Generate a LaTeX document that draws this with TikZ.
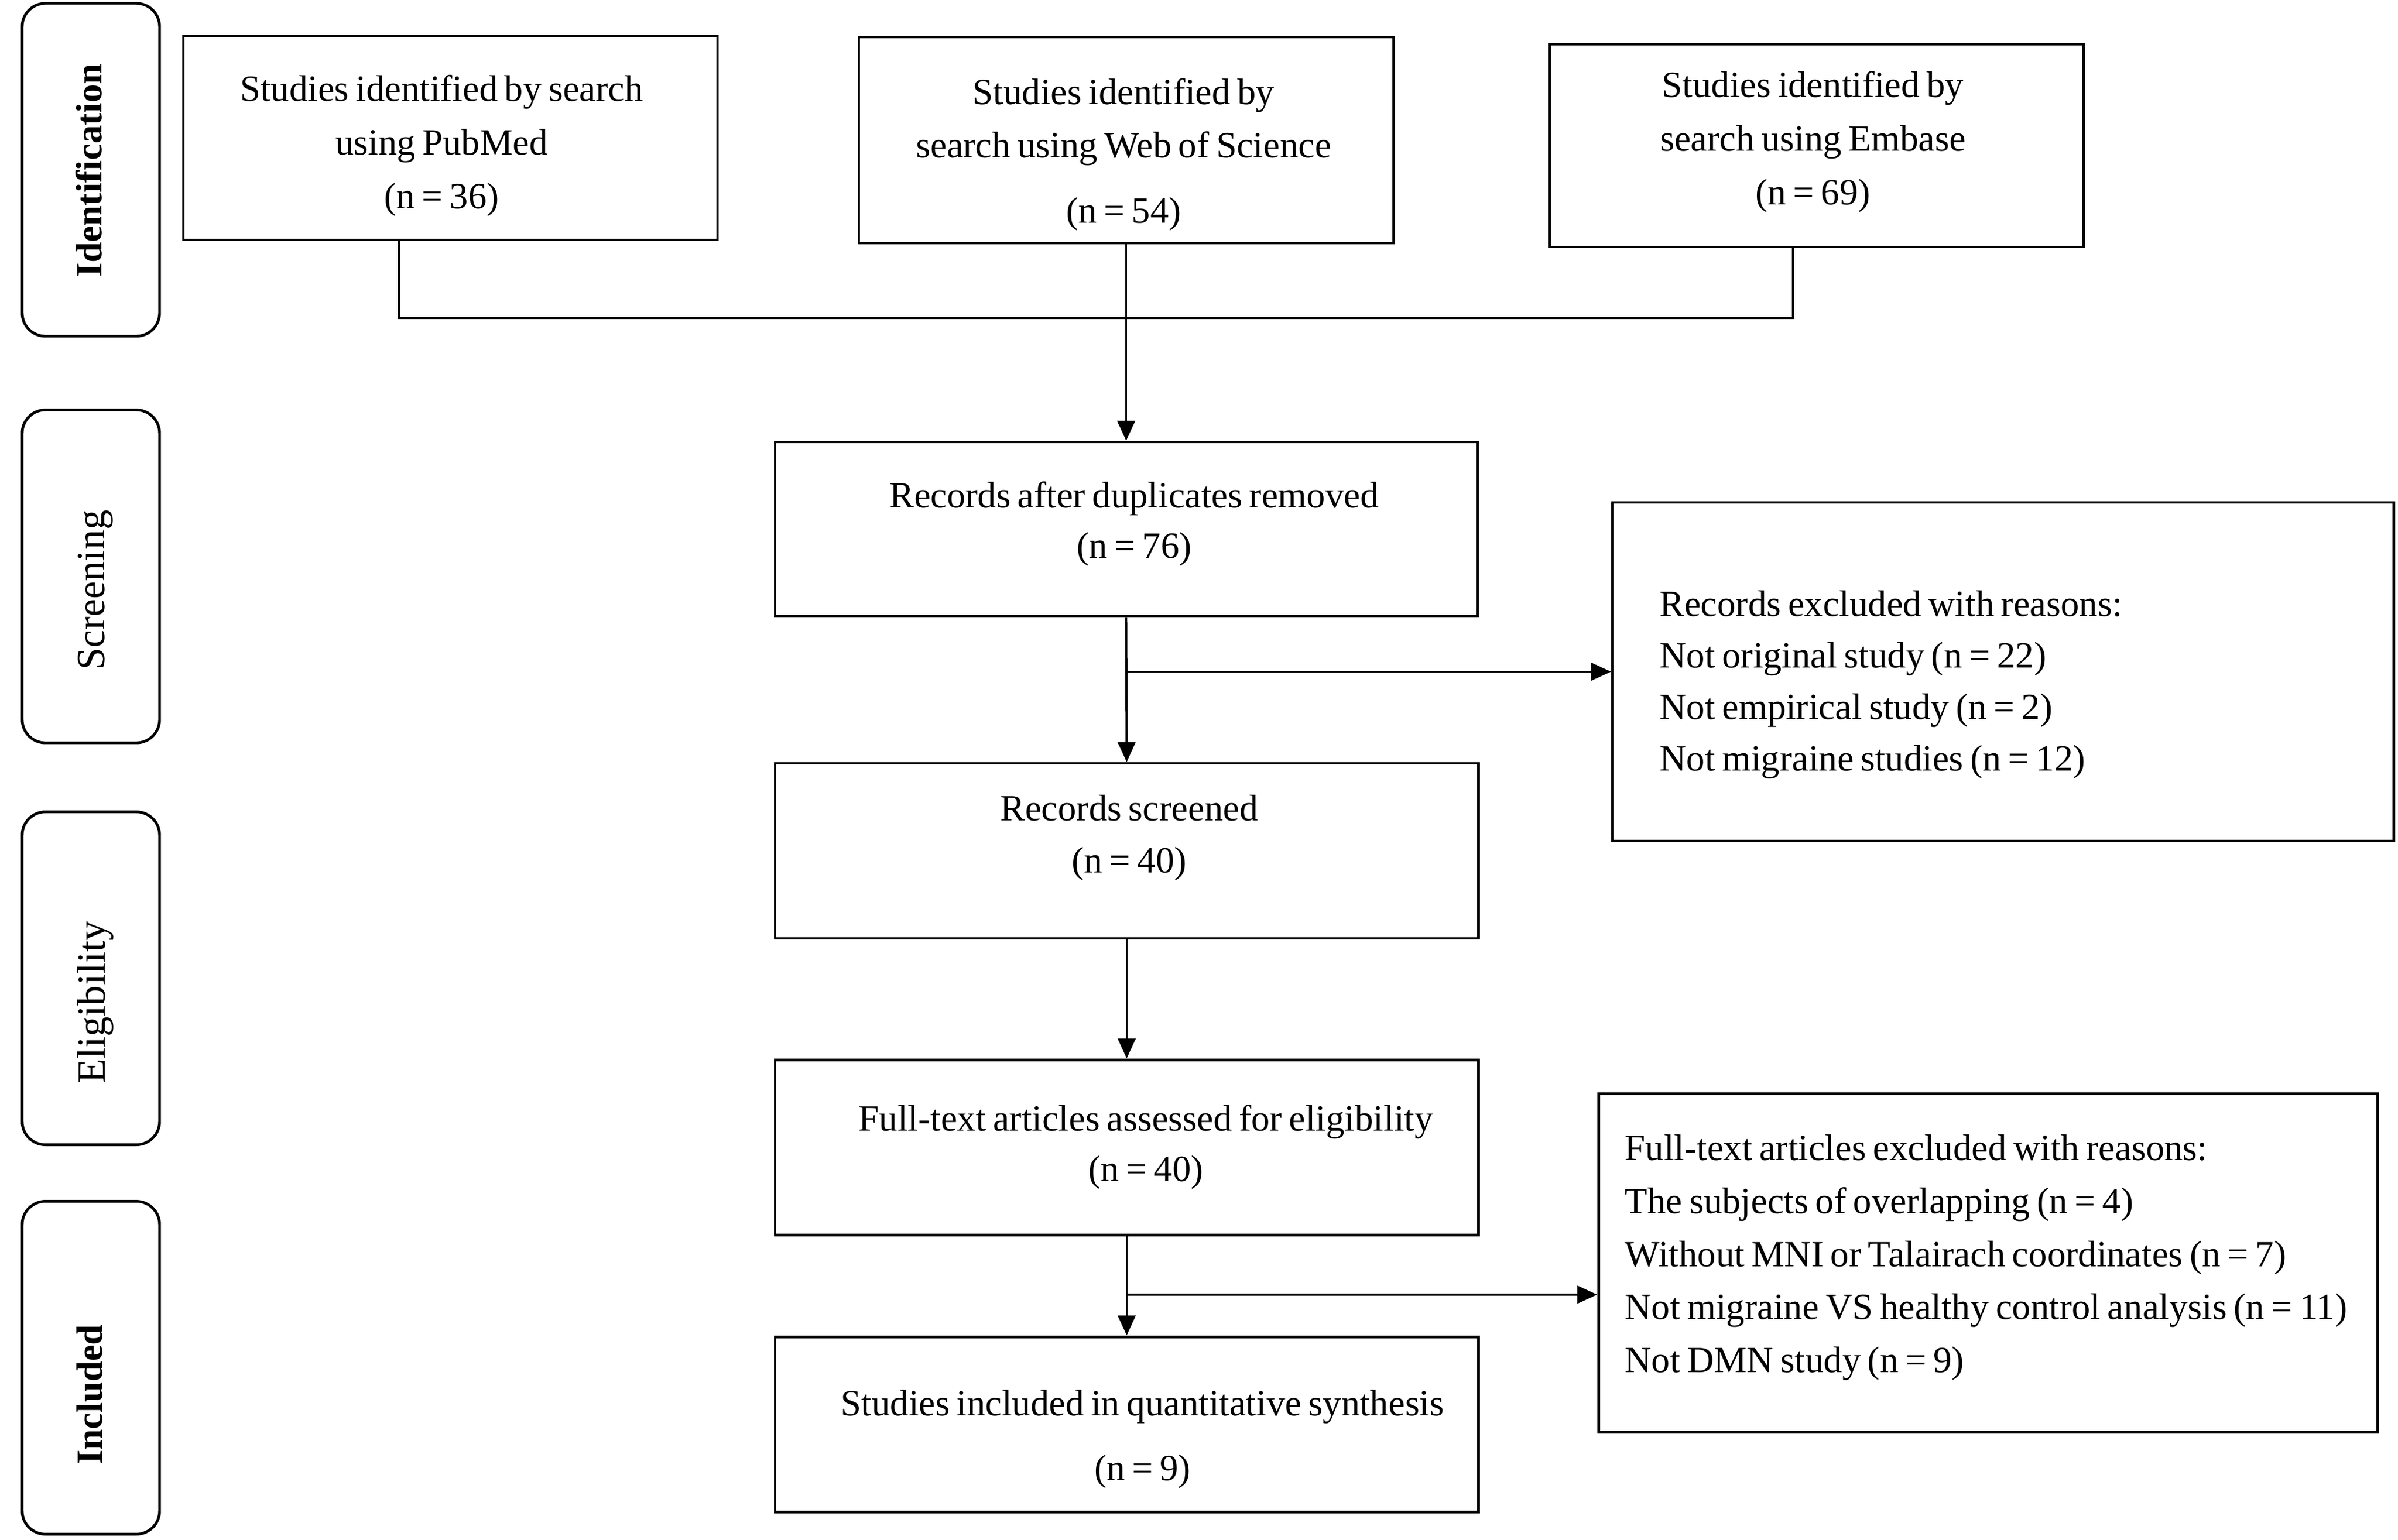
\documentclass[tikz,border=0pt]{standalone}
\usepackage{fontspec}
\setmainfont{Liberation Serif}[WordSpace=0.75]
\usetikzlibrary{arrows.meta}
\begin{document}
\begin{tikzpicture}[
  box/.style={draw=black, line width=1.4pt, fill=white, inner sep=0pt},
  stage/.style={draw=black, line width=1.4pt, rounded corners=0.42cm, minimum width=2.48cm, minimum height=6.01cm, inner sep=0pt},
  txt/.style={align=center, inner sep=0pt, font=\fontsize{19}{27.5}\selectfont},
  ltxt/.style={align=left, anchor=west, inner sep=0pt, font=\fontsize{19}{26.5}\selectfont},
  stagetxt/.style={rotate=90, inner sep=0pt, font=\fontsize{20.5}{24}\selectfont},
  stagebold/.style={rotate=90, inner sep=0pt, font=\fontsize{19}{24}\selectfont\bfseries},
  conn/.style={line width=1.1pt},
  arr/.style={line width=1.1pt, -{Triangle[length=0.36cm,width=0.32cm]}},
]
\fill[white] (0,0) rectangle (43.28,-27.79);
\useasboundingbox (0,0) rectangle (43.28,-27.79);

% stage labels
\node[stage] (sid) at (1.64,-3.065) {};
\node[stage] (sscr) at (1.64,-10.405) {};
\node[stage] (sel) at (1.64,-17.66) {};
\node[stage] (sinc) at (1.64,-24.69) {};
\node[stagebold] (sidt) at (1.60,-3.08) {Identification};
\node[stagetxt] (sscrt) at (1.72,-10.65) {Screening};
\node[stagetxt] (selt) at (1.72,-18.09) {Eligibility};
\node[stagebold] (sinct) at (1.62,-25.17) {Included};

% top boxes
\node[box, minimum width=9.64cm, minimum height=3.68cm] (pub) at (8.13,-2.49) {};
\node[box, minimum width=9.65cm, minimum height=3.72cm] (wos) at (20.325,-2.53) {};
\node[box, minimum width=9.64cm, minimum height=3.66cm] (emb) at (32.78,-2.63) {};
\node[txt] (pubt) at (7.97,-2.63) {Studies identified by search\\using PubMed\\(n = 36)};
\node[txt] (wost) at (20.28,-2.79) {Studies identified by\\search using Web of Science\\[6pt](n = 54)};
\node[txt] (embt) at (32.72,-2.56) {Studies identified by\\search using Embase\\(n = 69)};

% main column
\node[box, minimum width=12.67cm, minimum height=3.14cm] (dup) at (20.325,-9.55) {};
\node[box, minimum width=12.69cm, minimum height=3.16cm] (scr) at (20.335,-15.36) {};
\node[box, minimum width=12.69cm, minimum height=3.16cm] (ft) at (20.335,-20.71) {};
\node[box, minimum width=12.69cm, minimum height=3.16cm] (inc) at (20.335,-25.71) {};
\node[txt, font=\fontsize{19}{26}\selectfont] (dupt) at (20.47,-9.455) {Records after duplicates removed\\(n = 76)};
\node[txt, font=\fontsize{19}{26.7}\selectfont] (scrt) at (20.38,-15.12) {Records screened\\(n = 40)};
\node[txt, font=\fontsize{19}{26}\selectfont] (ftt) at (20.68,-20.705) {Full-text articles assessed for eligibility\\(n = 40)};
\node[txt, font=\fontsize{19}{33.3}\selectfont] (inct) at (20.62,-25.975) {Studies included in quantitative synthesis\\(n = 9)};

% exclusion boxes
\node[box, minimum width=14.10cm, minimum height=6.11cm] (ex1) at (36.15,-12.125) {};
\node[box, minimum width=14.06cm, minimum height=6.11cm] (ex2) at (35.88,-22.795) {};
\node[ltxt] (ex1t) at (29.95,-12.36) {Records excluded with reasons:\\Not original study (n = 22)\\Not empirical study (n = 2)\\Not migraine studies (n = 12)};
\node[ltxt, font=\fontsize{19}{27.2}\selectfont] (ex2t) at (29.32,-22.70) {Full-text articles excluded with reasons:\\The subjects of overlapping (n = 4)\\Without MNI or Talairach coordinates (n = 7)\\Not migraine VS healthy control analysis (n = 11)\\Not DMN study (n = 9)};

% connectors
\coordinate (px) at (7.20,0);
\coordinate (ex) at (32.36,0);
\coordinate (j) at (0,-5.74);
\coordinate (b2) at (0,-23.37);
\draw[conn] (pub.south -| px) -- (px |- j) -- (ex |- j) -- (emb.south -| ex);
\draw[arr] (wos.south) -- (dup.north);
\draw[arr] (dup.south) -- (scr.north);
\draw[arr] (ex1.west -| dup.south) -- (ex1.west);
\draw[arr] (scr.south) -- (ft.north);
\draw[arr] (ft.south) -- (inc.north);
\draw[arr] (ft.south |- b2) -- (ex2.west |- b2);
\end{tikzpicture}
\end{document}
